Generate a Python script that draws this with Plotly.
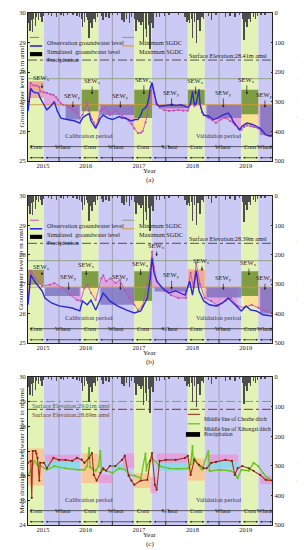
import numpy as np
import plotly.graph_objects as go
from plotly.subplots import make_subplots

# ---------------- data (x values in decimal years) ----------------
X_START, X_END = 2015.418, 2020.0
year_labels = ["2015", "2016", "2017", "2018", "2019"]
year_label_pos = [2015.70, 2016.5, 2017.5, 2018.5, 2019.5]
year_bounds = [2016, 2017, 2018, 2019]

season_crop = ["Corn", "Wheat", "Corn", "Wheat", "Corn", "Wheat", "Corn", "Wheat", "Corn", "Wheat"]
season_start = [2015.418, 2015.718, 2016.423, 2016.740, 2017.410, 2017.744, 2018.414, 2018.731, 2019.418, 2019.735]
season_end = [2015.718, 2016.423, 2016.740, 2017.410, 2017.744, 2018.414, 2018.731, 2019.418, 2019.735, 2020.0]

period_names = ["Calibration period", "Validation period"]
period_start = [2015.418, 2018.0]
period_end = [2017.97, 2020.0]
period_label_x = [2016.56, 2019.0]

precip_x = [2015.436, 2015.454, 2015.471, 2015.507, 2015.524, 2015.559, 2015.577, 2015.612, 2015.647, 2015.683, 2015.700,
            2015.806, 2015.859, 2015.947, 2016.035, 2016.088, 2016.158, 2016.264, 2016.335, 2016.388,
            2016.423, 2016.440, 2016.476, 2016.511, 2016.546, 2016.564, 2016.581, 2016.617, 2016.652, 2016.687, 2016.722,
            2016.793, 2016.828, 2016.881, 2016.934, 2017.004, 2017.092, 2017.180, 2017.216, 2017.269, 2017.322, 2017.357,
            2017.410, 2017.445, 2017.480, 2017.498, 2017.533, 2017.568, 2017.586, 2017.621, 2017.639, 2017.674, 2017.709, 2017.727, 2017.762,
            2017.832, 2017.885, 2017.973, 2018.061, 2018.238, 2018.361,
            2018.396, 2018.431, 2018.449, 2018.484, 2018.502, 2018.537, 2018.572, 2018.608, 2018.643, 2018.678, 2018.713,
            2018.801, 2018.854, 2018.942, 2019.118, 2019.207, 2019.295, 2019.383,
            2019.436, 2019.471, 2019.506, 2019.524, 2019.559, 2019.594, 2019.647, 2019.682, 2019.718,
            2019.788, 2019.859]
precip_mm = [35, 60, 25, 65, 20, 45, 15, 22, 12, 32, 10,
             8, 10, 12, 6, 10, 8, 5, 10, 12,
             20, 48, 30, 15, 25, 85, 35, 50, 20, 32, 12,
             10, 22, 15, 18, 8, 6, 25, 30, 20, 35, 15,
             20, 60, 25, 32, 40, 30, 95, 55, 80, 40, 120, 35, 50,
             15, 12, 10, 8, 6, 12,
             30, 25, 35, 20, 85, 30, 100, 25, 60, 15, 20,
             10, 25, 8, 12, 10, 15, 8,
             20, 90, 30, 48, 20, 32, 15, 20, 10,
             8, 5]

# panel (a)
obs_a_x = [2015.418, 2015.471, 2015.524, 2015.577, 2015.630, 2015.647, 2015.718, 2015.771, 2015.841, 2015.894, 2015.947, 2015.982,
           2016.035, 2016.070, 2016.158, 2016.211, 2016.247, 2016.299, 2016.335, 2016.388, 2016.440, 2016.476, 2016.528, 2016.564,
           2016.617, 2016.652, 2016.687, 2016.740, 2016.775, 2016.828, 2016.863, 2016.916, 2016.951, 2017.004, 2017.057, 2017.128,
           2017.180, 2017.251, 2017.304, 2017.357, 2017.410, 2017.480, 2017.533, 2017.568, 2017.621, 2017.656, 2017.709, 2017.744,
           2017.779, 2017.832, 2017.885, 2017.973, 2018.061, 2018.149, 2018.238, 2018.326, 2018.414, 2018.467, 2018.502, 2018.537,
           2018.572, 2018.625, 2018.643, 2018.678, 2018.713, 2018.801, 2018.872, 2018.942, 2019.030, 2019.119, 2019.207, 2019.259,
           2019.295, 2019.365, 2019.418, 2019.471, 2019.524, 2019.594, 2019.647, 2019.735, 2019.788, 2019.859, 2019.929, 2020.0]
obs_a_y = [26.9, 27.63, 27.55, 27.55, 27.5, 27.35, 27.32, 27.3, 27.25, 27.23, 27.15, 27.06,
           26.95, 26.9, 26.86, 26.8, 26.73, 26.68, 26.62, 26.45, 26.55, 26.73, 26.96, 26.7,
           26.4, 26.3, 26.18, 26.4, 26.69, 26.75, 26.8, 26.65, 26.55, 26.62, 26.69, 26.6,
           26.52, 26.45, 26.35, 26.25, 26.1, 25.94, 25.95, 26.0, 26.3, 26.55, 27.2, 27.5,
           27.3, 26.95, 26.8, 26.72, 26.69, 26.7, 26.72, 26.7, 26.7, 26.9, 27.35, 26.85,
           26.9, 27.4, 26.95, 26.65, 26.55, 26.45, 26.38, 26.28, 26.4, 26.45, 26.35, 26.3,
           26.22, 26.1, 26.05, 26.15, 26.2, 26.18, 26.15, 26.1, 26.0, 25.9, 25.85, 25.82]
sim_a_x = [2015.418, 2015.471, 2015.507, 2015.559, 2015.612, 2015.647, 2015.700, 2015.771, 2015.841, 2015.912, 2015.965,
           2016.035, 2016.106, 2016.176, 2016.247, 2016.299, 2016.388, 2016.440, 2016.511, 2016.564, 2016.599, 2016.652,
           2016.687, 2016.740, 2016.775, 2016.828, 2016.916, 2017.004, 2017.075, 2017.128, 2017.180, 2017.233, 2017.304,
           2017.357, 2017.427, 2017.480, 2017.533, 2017.568, 2017.621, 2017.656, 2017.691, 2017.709, 2017.744, 2017.779,
           2017.832, 2017.885, 2017.938, 2018.026, 2018.114, 2018.202, 2018.290, 2018.361, 2018.414, 2018.467, 2018.502,
           2018.537, 2018.572, 2018.625, 2018.643, 2018.678, 2018.713, 2018.801, 2018.889, 2018.977, 2019.066, 2019.171,
           2019.224, 2019.259, 2019.330, 2019.383, 2019.436, 2019.524, 2019.594, 2019.647, 2019.718, 2019.771, 2019.823,
           2019.876, 2019.947, 2020.0]
sim_a_y = [26.68, 27.45, 27.35, 27.3, 27.3, 27.13, 26.95, 26.73, 26.85, 27.0, 26.7,
           26.45, 26.42, 26.4, 26.37, 26.35, 26.28, 26.45, 26.55, 26.6, 26.35, 26.2,
           26.1, 26.3, 26.45, 26.55, 26.45, 26.4, 26.45, 26.5, 26.45, 26.45, 26.4,
           26.35, 26.4, 26.4, 26.55, 26.73, 26.8, 26.9, 27.2, 27.47, 27.65, 27.3,
           26.9, 26.85, 26.86, 26.88, 26.9, 26.88, 26.9, 26.85, 26.8, 26.95, 27.35,
           26.9, 26.95, 27.4, 26.9, 26.7, 26.55, 26.52, 26.4, 26.45, 26.55, 26.62,
           26.5, 26.35, 26.18, 26.05, 26.18, 26.28, 26.25, 26.22, 26.15, 26.1, 26.0,
           25.88, 25.85, 25.85]
box_a_x0 = [2015.418, 2016.123, 2016.423, 2016.775, 2017.410, 2017.90, 2018.414, 2018.766, 2019.418, 2019.771]
box_a_x1 = [2015.718, 2016.388, 2016.740, 2017.410, 2017.744, 2018.38, 2018.731, 2019.418, 2019.735, 2020.0]
box_a_top = [27.69, 26.9, 27.41, 26.9, 27.41, 26.9, 27.41, 26.9, 27.41, 26.9]
box_a_bot = [27.13, 26.4, 26.68, 26.55, 26.45, 26.78, 26.9, 26.45, 26.58, 25.88]
box_a_kind = ["S", "P", "G", "P", "G", "P", "G", "P", "G", "P"]
sew_a_x = [2015.68, 2016.26, 2016.62, 2017.15, 2017.59, 2018.11, 2018.56, 2019.08, 2019.52, 2019.86]
sew_a_label_y = [27.8, 27.2, 27.7, 27.2, 27.74, 27.3, 27.7, 27.3, 27.74, 27.23]
sew_a_tip_y = [27.45, 26.8, 27.25, 26.8, 27.25, 26.85, 27.25, 26.8, 27.25, 26.8]
sew_a_sub = ["x", "y", "x", "y", "x", "y", "x", "y", "x", "y"]

# panel (b)
obs_b_x = [2015.418, 2015.471, 2015.559, 2015.683, 2015.824, 2015.912, 2016.070, 2016.211, 2016.335, 2016.405, 2016.476,
           2016.528, 2016.599, 2016.687, 2016.793, 2016.828, 2016.881, 2016.969, 2017.057, 2017.145, 2017.233, 2017.322,
           2017.410, 2017.480, 2017.568, 2017.656, 2017.709, 2017.744, 2017.779, 2017.832, 2017.973, 2018.096, 2018.238,
           2018.379, 2018.467, 2018.520, 2018.572, 2018.643, 2018.731, 2018.854, 2018.977, 2019.119, 2019.224, 2019.348,
           2019.471, 2019.612, 2019.735, 2019.859, 2020.0]
obs_b_y = [26.43, 27.45, 27.2, 26.94, 26.98, 27.04, 26.87, 26.63, 26.46, 26.43, 26.87,
           26.98, 26.7, 26.46, 27.2, 27.3, 27.1, 27.2, 27.04, 27.14, 26.77, 26.53,
           26.3, 26.12, 26.26, 26.98, 27.5, 28.1, 27.6, 27.1, 26.77, 26.63, 26.53,
           26.53, 27.38, 26.9, 27.7, 27.0, 26.53, 26.43, 26.26, 26.43, 26.53, 26.26,
           26.2, 26.3, 26.2, 26.09, 26.02]
sim_b_x = [2015.418, 2015.471, 2015.542, 2015.630, 2015.683, 2015.736, 2015.859, 2016.0, 2016.123, 2016.247, 2016.388,
           2016.440, 2016.528, 2016.599, 2016.687, 2016.775, 2016.828, 2016.951, 2017.092, 2017.269, 2017.410, 2017.533,
           2017.656, 2017.709, 2017.744, 2017.779, 2017.832, 2017.938, 2018.061, 2018.185, 2018.361, 2018.449, 2018.502,
           2018.572, 2018.625, 2018.713, 2018.819, 2018.942, 2019.066, 2019.171, 2019.295, 2019.418, 2019.506, 2019.594,
           2019.700, 2019.823, 2020.0]
sim_b_y = [26.3, 27.32, 27.1, 26.87, 26.77, 26.53, 26.36, 26.26, 26.22, 26.19, 26.09,
           26.43, 26.3, 26.46, 26.12, 26.46, 26.7, 26.43, 26.26, 26.12, 26.02, 26.09,
           26.53, 27.2, 27.9, 27.4, 27.1, 26.87, 26.7, 26.77, 26.63, 27.1, 26.63,
           27.45, 26.77, 26.43, 26.3, 26.26, 26.36, 26.53, 26.3, 26.09, 26.26, 26.12,
           26.09, 25.96, 25.92]
box_b_x0 = [2015.418, 2015.736, 2016.423, 2016.775, 2017.410, 2017.79, 2018.414, 2018.766, 2019.418, 2019.771]
box_b_x1 = [2015.718, 2016.388, 2016.740, 2017.410, 2017.744, 2018.38, 2018.731, 2019.418, 2019.735, 2020.0]
box_b_top = [27.49, 26.9, 27.44, 26.9, 27.44, 26.9, 27.5, 26.9, 27.44, 26.9]
box_b_bot = [26.98, 26.6, 26.87, 26.3, 26.43, 26.75, 26.87, 26.55, 26.6, 26.0]
box_b_kind = ["O", "P", "G", "P", "G", "P", "S", "P", "G", "P"]
sew_b_x = [2015.68, 2016.18, 2016.51, 2017.15, 2017.53, 2017.83, 2018.11, 2018.68, 2019.08, 2019.56, 2019.86]
sew_b_label_y = [27.6, 27.25, 27.65, 27.25, 27.7, 28.3, 27.3, 27.8, 27.2, 27.72, 27.2]
sew_b_tip_y = [27.3, 26.8, 27.3, 26.8, 27.3, 27.95, 26.82, 27.45, 26.8, 27.3, 26.8]
sew_b_sub = ["x", "y", "x", "y", "x", "x", "y", "x", "y", "x", "y"]

# panel (c)
che_x = [2015.418, 2015.471, 2015.489, 2015.507, 2015.559, 2015.577, 2015.595, 2015.630, 2015.647, 2015.718,
         2015.771, 2015.894, 2016.0, 2016.123, 2016.247, 2016.335, 2016.423, 2016.476, 2016.564, 2016.617,
         2016.652, 2016.705, 2016.775, 2016.828, 2016.881, 2016.951, 2017.057, 2017.180, 2017.233, 2017.304,
         2017.357, 2017.410, 2017.533, 2017.656, 2017.709, 2017.744, 2017.797, 2017.832, 2017.885, 2018.0,
         2018.185, 2018.361, 2018.414, 2018.467, 2018.537, 2018.625, 2018.713, 2018.766, 2018.854, 2018.942,
         2019.119, 2019.242, 2019.295, 2019.348, 2019.436, 2019.559, 2019.647, 2019.771, 2019.876, 2020.0]
che_y = [26.52, 26.6, 25.1, 27.0, 27.0, 26.9, 26.72, 25.8, 26.52, 26.52,
         26.3, 26.72, 26.64, 26.64, 26.6, 26.72, 26.65, 26.52, 26.72, 26.92,
         26.03, 25.8, 26.11, 26.3, 26.2, 26.39, 26.39, 26.64, 26.8, 26.0,
         25.8, 25.63, 25.8, 25.83, 26.6, 26.92, 25.63, 25.43, 26.6, 26.64,
         26.64, 26.72, 26.8, 26.03, 26.64, 26.44, 26.3, 26.3, 26.52, 26.55,
         26.64, 26.6, 26.03, 26.3, 26.39, 26.3, 26.2, 26.03, 25.83, 25.8]
xih_x = [2015.418, 2015.471, 2015.542, 2015.595, 2015.647, 2015.771, 2015.912, 2016.123, 2016.352, 2016.476,
         2016.528, 2016.564, 2016.581, 2016.617, 2016.687, 2016.740, 2016.775, 2016.793, 2016.828, 2017.004,
         2017.128, 2017.233, 2017.322, 2017.410, 2017.533, 2017.621, 2017.639, 2017.656, 2017.744, 2017.885,
         2018.061, 2018.238, 2018.414, 2018.467, 2018.502, 2018.520, 2018.537, 2018.590, 2018.678, 2018.801,
         2018.819, 2018.854, 2019.030, 2019.207, 2019.295, 2019.348, 2019.418, 2019.559, 2019.647, 2019.735,
         2019.823, 2019.912, 2020.0]
xih_y = [26.03, 26.2, 26.6, 26.44, 26.4, 26.24, 26.39, 26.3, 26.24, 26.24,
         26.39, 27.12, 26.35, 26.3, 26.2, 26.39, 27.0, 26.2, 26.25, 26.11,
         26.3, 26.25, 26.03, 26.0, 25.9, 26.9, 26.2, 26.44, 26.72, 26.39,
         26.3, 26.28, 26.3, 26.45, 27.2, 26.5, 26.72, 26.5, 26.24, 27.0,
         26.2, 26.2, 26.24, 26.2, 26.11, 25.9, 26.24, 26.2, 26.52, 26.39,
         26.11, 25.9, 25.8]
box_c_x0 = [2015.418, 2015.74, 2015.74, 2016.423, 2016.74, 2017.0, 2017.2, 2017.41, 2017.71, 2017.83, 2017.83, 2018.414, 2018.77, 2018.77, 2019.77]
box_c_x1 = [2015.718, 2016.39, 2016.39, 2016.74, 2017.0, 2017.2, 2017.41, 2017.71, 2017.83, 2018.41, 2018.41, 2018.731, 2019.36, 2019.36, 2020.0]
box_c_top = [27.1, 26.85, 26.55, 26.9, 26.05, 26.45, 26.9, 26.1, 25.95, 26.9, 26.52, 26.7, 26.86, 26.6, 26.0]
box_c_bot = [25.6, 26.55, 26.25, 25.7, 25.7, 26.2, 26.3, 25.5, 25.3, 26.52, 26.2, 25.8, 26.6, 26.3, 25.65]
box_c_kind = ["R", "K", "C", "R", "K", "C", "K", "R", "K", "K", "C", "R", "K", "C", "K"]

# ---------------- styles ----------------
FONT = "Liberation Serif"
TXT = "#222222"
CORN_BG = "#e3f3b6"
WHEAT_BG = "#cbcaf4"
OBS_C = "#c052b2"
SIM_C = "#2a2ad6"
PRE_C = "#4d4d4d"
MIN_C = "#8f9f78"
MAX_C = "#d8953c"
SURF_C = "#444444"
CHE_C = "#a5301c"
XIH_C = "#6cc21e"
BOX_COL = {"G": "rgba(96,140,48,0.80)", "P": "rgba(118,108,185,0.75)", "S": "rgba(238,160,150,0.85)",
           "O": "rgba(140,128,70,0.78)", "K": "rgba(250,130,200,0.55)", "C": "rgba(110,225,230,0.65)",
           "R": "rgba(255,185,140,0.75)"}
FILL_CORN = "rgba(250,222,140,0.85)"
FILL_WHEAT = "rgba(240,140,215,0.6)"

fig = make_subplots(rows=3, cols=1, specs=[[{"secondary_y": True}]] * 3, vertical_spacing=0.05)


def ids(r):
    xs = "x" if r == 1 else f"x{r}"
    yp = "y" if r == 1 else f"y{2 * r - 1}"
    return xs, yp


def poly(x, y, color, r):
    fig.add_trace(go.Scatter(x=x, y=y, mode="lines", fill="toself", fillcolor=color, line=dict(width=0),
                             hoverinfo="skip", showlegend=False), row=r, col=1)


def hline(v, color, r, dash="solid", width=0.9):
    fig.add_trace(go.Scatter(x=[X_START, X_END], y=[v, v], mode="lines", line=dict(color=color, width=width, dash=dash),
                             hoverinfo="skip", showlegend=False), row=r, col=1)


def common(r, letter, ytitle):
    xs, yp = ids(r)
    for s0, s1, crop in zip(season_start, season_end, season_crop):
        fig.add_shape(type="rect", xref=xs, yref=f"{yp} domain", x0=s0, x1=s1, y0=0, y1=1,
                      fillcolor=CORN_BG if crop == "Corn" else WHEAT_BG, line_width=0, layer="below")
    for yb in year_bounds:
        fig.add_shape(type="line", xref=xs, yref=f"{yp} domain", x0=yb, x1=yb, y0=0, y1=1,
                      line=dict(color="#858585", width=0.6), layer="below")
        fig.add_shape(type="line", xref=xs, yref=f"{yp} domain", x0=yb, x1=yb, y0=0, y1=0.025,
                      line=dict(color="#222", width=0.8), layer="above")
    # season labels and arrows
    for s0, s1, crop in zip(season_start, season_end, season_crop):
        fig.add_annotation(x=(s0 + s1) / 2, y=0.058, xref=xs, yref=f"{yp} domain", text=crop, showarrow=False,
                           font=dict(size=6, color=TXT))
        fig.add_annotation(x=s1 - 0.004, y=0.022, ax=s0 + 0.004, ay=0.022, xref=xs, yref=f"{yp} domain",
                           axref=xs, ayref=f"{yp} domain", text="", showarrow=True, arrowside="end+start",
                           arrowhead=2, startarrowhead=2, arrowsize=0.6, startarrowsize=0.6, arrowwidth=0.7,
                           arrowcolor="#222")
    for name, p0, p1, lx in zip(period_names, period_start, period_end, period_label_x):
        fig.add_annotation(x=lx, y=0.135, xref=xs, yref=f"{yp} domain", text=name, showarrow=False,
                           font=dict(size=6.5, color="#333366"))
        fig.add_annotation(x=p1 - 0.004, y=0.097, ax=p0 + 0.004, ay=0.097, xref=xs, yref=f"{yp} domain",
                           axref=xs, ayref=f"{yp} domain", text="", showarrow=True, arrowside="end+start",
                           arrowhead=2, startarrowhead=2, arrowsize=0.6, startarrowsize=0.6, arrowwidth=0.7,
                           arrowcolor="#222")
    # precipitation bars
    fig.add_trace(go.Bar(x=precip_x, y=precip_mm, width=0.008, marker=dict(color=PRE_C, line=dict(width=0)),
                         hoverinfo="skip", showlegend=False), row=r, col=1, secondary_y=True)
    # axis titles and panel letters
    fig.add_annotation(x=0.5, y=-0.108, xref=f"{xs} domain", yref=f"{yp} domain", text="Year", showarrow=False,
                       font=dict(size=7, color=TXT))
    fig.add_annotation(x=0.5, y=-0.168, xref=f"{xs} domain", yref=f"{yp} domain", text=letter, showarrow=False,
                       font=dict(size=7, color=TXT))
    fig.add_annotation(x=-0.048, y=0.5, xref="paper", yref=f"{yp} domain", text=ytitle, textangle=-90,
                       showarrow=False, font=dict(size=7, color=TXT))
    fig.add_annotation(x=1.066, y=0.5, xref="paper", yref=f"{yp} domain", text="Precipitation in mm/d",
                       textangle=-90, showarrow=False, font=dict(size=7, color=TXT))


def gw_panel(r, letter, obs_x, obs_y, sim_x, sim_y, bx0, bx1, btop, bbot, bkind,
             sx, sly, sty, ssub, corn_thr, wheat_thr, min_sgdc, surf):
    xs, yp = ids(r)
    common(r, letter, "Groundwater level in m amsl")
    ox = np.array(obs_x)
    oy = np.array(obs_y)
    for s0, s1, crop in zip(season_start, season_end, season_crop):
        m = (ox >= s0) & (ox <= s1)
        thr = corn_thr if crop == "Corn" else wheat_thr
        xx = list(ox[m]) + [ox[m][-1], ox[m][0]]
        yy = list(oy[m]) + [thr, thr]
        poly(xx, yy, FILL_CORN if crop == "Corn" else FILL_WHEAT, r)
    for a, b, t, u, k in zip(bx0, bx1, btop, bbot, bkind):
        poly([a, b, b, a, a], [t, t, u, u, t], BOX_COL[k], r)
    hline(min_sgdc, MIN_C, r)
    hline(wheat_thr, MAX_C, r)
    hline(surf, SURF_C, r, dash="dashdot", width=0.9)
    fig.add_annotation(x=0.988, y=surf + 0.15, xref=f"{xs} domain", yref=yp, text=f"Surface Elevation:{surf}m amsl",
                       showarrow=False, xanchor="right", font=dict(size=6.2, color=TXT))
    fig.add_trace(go.Scatter(x=obs_x, y=obs_y, mode="lines+markers", line=dict(color=OBS_C, width=0.9),
                             marker=dict(size=2.2, color=OBS_C), hoverinfo="skip", showlegend=False), row=r, col=1)
    fig.add_trace(go.Scatter(x=sim_x, y=sim_y, mode="lines", line=dict(color=SIM_C, width=1.4),
                             hoverinfo="skip", showlegend=False), row=r, col=1)
    for x, ly, ty, sub in zip(sx, sly, sty, ssub):
        fig.add_annotation(x=x, y=ty, ax=x, ay=ly, xref=xs, yref=yp, axref=xs, ayref=yp,
                           text=f"SEW<sub>{sub}</sub>", showarrow=True, arrowhead=2, arrowsize=0.7,
                           arrowwidth=0.7, arrowcolor="#222", standoff=0, font=dict(size=6.5, color=TXT))
    # legend
    rows = [0.835, 0.777, 0.722]
    xd, ydm = f"{xs} domain", f"{yp} domain"
    fig.add_shape(type="line", xref=xd, yref=ydm, x0=0.008, x1=0.058, y0=rows[0], y1=rows[0],
                  line=dict(color=OBS_C, width=1, dash="dashdot"))
    fig.add_shape(type="line", xref=xd, yref=ydm, x0=0.008, x1=0.058, y0=rows[1], y1=rows[1],
                  line=dict(color=SIM_C, width=1.6))
    fig.add_shape(type="rect", xref=xd, yref=ydm, x0=0.008, x1=0.058, y0=rows[2] - 0.014, y1=rows[2] + 0.014,
                  fillcolor="black", line_width=0)
    fig.add_shape(type="line", xref=xd, yref=ydm, x0=0.385, x1=0.435, y0=rows[0], y1=rows[0],
                  line=dict(color=MIN_C, width=1))
    fig.add_shape(type="line", xref=xd, yref=ydm, x0=0.385, x1=0.435, y0=rows[1], y1=rows[1],
                  line=dict(color=MAX_C, width=1))
    for txt, xx, yy in [("Observation groundwater level", 0.069, rows[0]),
                        ("Simulated  groundwater level", 0.069, rows[1]),
                        ("Precipitation", 0.069, rows[2]),
                        ("Minimum SGDC", 0.446, rows[0]),
                        ("Maximum SGDC", 0.446, rows[1])]:
        fig.add_annotation(x=xx, y=yy, xref=xd, yref=ydm, text=txt, showarrow=False, xanchor="left",
                           font=dict(size=6.2, color=TXT))


gw_panel(1, "(a)", obs_a_x, obs_a_y, sim_a_x, sim_a_y, box_a_x0, box_a_x1, box_a_top, box_a_bot, box_a_kind,
         sew_a_x, sew_a_label_y, sew_a_tip_y, sew_a_sub, 27.41, 26.9, 27.78, 28.41)
gw_panel(2, "(b)", obs_b_x, obs_b_y, sim_b_x, sim_b_y, box_b_x0, box_b_x1, box_b_top, box_b_bot, box_b_kind,
         sew_b_x, sew_b_label_y, sew_b_tip_y, sew_b_sub, 27.44, 26.9, 27.8, 28.39)

# panel (c)
common(3, "(c)", "Mean drainage ditches water level in m amsl")
xs3, yp3 = ids(3)
for a, b, t, u, k in zip(box_c_x0, box_c_x1, box_c_top, box_c_bot, box_c_kind):
    poly([a, b, b, a, a], [t, t, u, u, t], BOX_COL[k], 3)
hline(29.01, "#55bf3a", 3, dash="dashdot", width=1)
hline(28.69, "#9b3020", 3, dash="dashdot", width=1)
fig.add_annotation(x=0.008, y=28.84, xref=f"{xs3} domain", yref=yp3, text="Surface Elevation:29.01m amsl",
                   showarrow=False, xanchor="left", font=dict(size=6.2, color="#2f6f5a"))
fig.add_annotation(x=0.008, y=28.47, xref=f"{xs3} domain", yref=yp3, text="Surface Elevation:28.69m amsl",
                   showarrow=False, xanchor="left", font=dict(size=6.2, color="#7a3a2a"))
fig.add_trace(go.Scatter(x=xih_x, y=xih_y, mode="lines+markers", line=dict(color=XIH_C, width=1.3),
                         marker=dict(size=2.2, color=XIH_C), hoverinfo="skip", showlegend=False), row=3, col=1)
fig.add_trace(go.Scatter(x=che_x, y=che_y, mode="lines+markers", line=dict(color=CHE_C, width=1.1),
                         marker=dict(size=2.2, color="#6b2a10"), hoverinfo="skip", showlegend=False), row=3, col=1)
rows_c = [0.748, 0.684, 0.612]
xd3, yd3 = f"{xs3} domain", f"{yp3} domain"
fig.add_shape(type="line", xref=xd3, yref=yd3, x0=0.654, x1=0.704, y0=rows_c[0], y1=rows_c[0],
              line=dict(color=CHE_C, width=1.1))
fig.add_shape(type="line", xref=xd3, yref=yd3, x0=0.654, x1=0.704, y0=rows_c[1], y1=rows_c[1],
              line=dict(color=XIH_C, width=1.3))
fig.add_shape(type="rect", xref=xd3, yref=yd3, x0=0.646, x1=0.704, y0=rows_c[2] - 0.016, y1=rows_c[2] + 0.016,
              fillcolor="black", line_width=0)
for txt, yy in [("Middle line of Chezhe ditch", rows_c[0]), ("Middle line of Xihongzi ditch", rows_c[1]),
                ("Precipitation", rows_c[2])]:
    fig.add_annotation(x=0.712, y=yy, xref=xd3, yref=yd3, text=txt, showarrow=False, xanchor="left",
                       font=dict(size=5.6, color=TXT))

# ---------------- axes ----------------
for r, (lo, hi) in zip([1, 2, 3], [(25, 30), (25, 30), (24, 30)]):
    fig.update_xaxes(range=[X_START, X_END], tickmode="array", tickvals=year_label_pos, ticktext=year_labels,
                     ticks="", ticklabelstandoff=-2, showgrid=False, zeroline=False, showline=True,
                     linecolor="#222", linewidth=0.8, mirror=True,
                     tickfont=dict(size=6.5, color=TXT, family=FONT), automargin=False, row=r, col=1)
    fig.update_yaxes(range=[lo, hi], dtick=1, ticks="inside", ticklen=2, tickcolor="#222", showline=True,
                     linecolor="#222", linewidth=0.8, showgrid=False, zeroline=False,
                     tickfont=dict(size=6.5, color=TXT, family=FONT), automargin=False, row=r, col=1,
                     secondary_y=False)
    fig.update_yaxes(range=[500, 0], dtick=100, ticks="inside", ticklen=2, tickcolor="#222", showline=True,
                     linecolor="#222", linewidth=0.8, showgrid=False, zeroline=False,
                     tickfont=dict(size=6.5, color=TXT, family=FONT), automargin=False, row=r, col=1,
                     secondary_y=True)

fig.update_layout(
    width=305, height=550, autosize=False,
    margin=dict(l=20, r=25, t=5, b=33),
    paper_bgcolor="white", plot_bgcolor="white",
    font=dict(family=FONT, size=6.5, color=TXT),
    showlegend=False, bargap=0,
    yaxis=dict(domain=[0.711, 1.0]),
    yaxis3=dict(domain=[0.3555, 0.6426]),
    yaxis5=dict(domain=[0.0, 0.289]),
)

fig.write_html("out.html")
